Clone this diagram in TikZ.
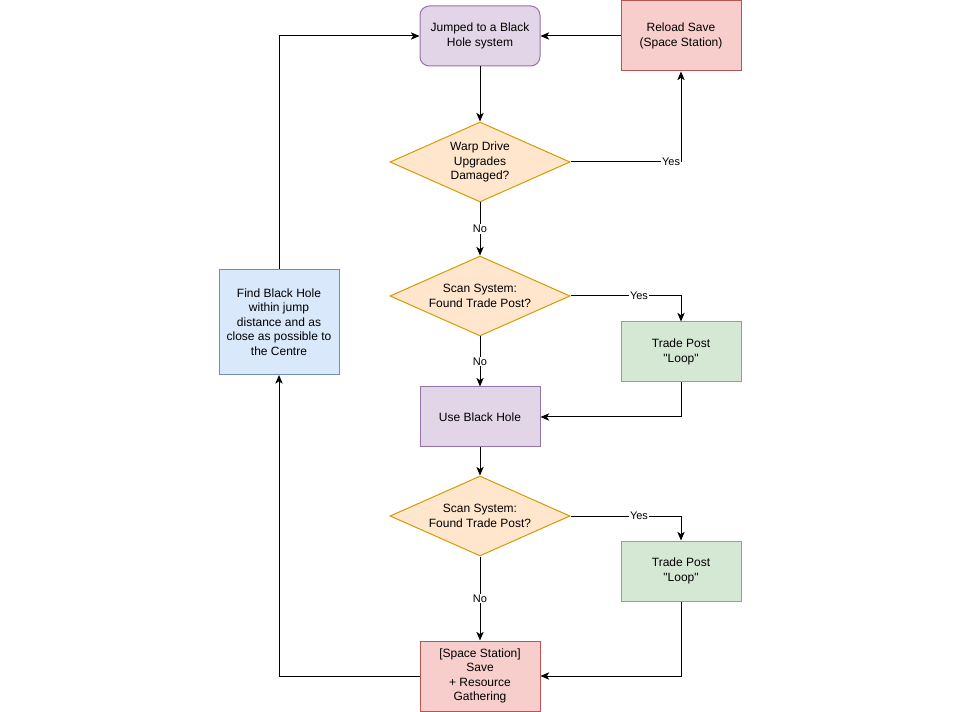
\documentclass[tikz,border=0pt]{standalone}
\usepackage{fontspec}
\setmainfont{Liberation Sans}
\usepackage{xcolor}
\usepackage{tikz}
\usetikzlibrary{positioning,arrows.meta,shapes.geometric}

\definecolor{violetfill}{HTML}{E1D5E7}
\definecolor{violetline}{HTML}{9673A6}
\definecolor{redfill}{HTML}{F8CECC}
\definecolor{redline}{HTML}{B85450}
\definecolor{orangefill}{HTML}{FFE6CC}
\definecolor{orangeline}{HTML}{D79B00}
\definecolor{greenfill}{HTML}{D5E8D4}
\definecolor{greenline}{HTML}{82B366}
\definecolor{bluefill}{HTML}{DAE8FC}
\definecolor{blueline}{HTML}{6C8EBF}

\begin{document}
\begin{tikzpicture}[
  x=0.75pt, y=-0.75pt,
  node distance=42pt,
  stepbox/.style={draw, align=center, line width=0.75pt, inner sep=2pt, minimum width=90pt, minimum height=45pt, font=\fontsize{9}{10.9}\selectfont},
  decision/.style={diamond, draw=orangeline, fill=orangefill, aspect=2.25, align=center, line width=0.75pt, inner sep=0pt, minimum width=135pt, minimum height=60pt, font=\fontsize{9}{10.9}\selectfont},
  lbl/.style={fill=white, inner sep=0.5pt, font=\fontsize{8.25}{9}\selectfont},
  flow/.style={->, line width=0.75pt, >={Stealth[length=6.5pt, width=5.5pt, inset=1.8pt]}}
]
  \fill[white] (0,0) rectangle (960,712);
  \useasboundingbox (0,0) rectangle (960,712);

  % main column
  \node[stepbox, rounded corners=7pt, fill=violetfill, draw=violetline] (jump) at (480,36) {Jumped to a Black\\Hole system};
  \node[decision, below=41.25pt of jump] (warp) {Warp Drive\\Upgrades\\Damaged?};
  \node[decision, below=39.75pt of warp] (scanA) {Scan System:\\Found Trade Post?};
  \node[stepbox, fill=violetfill, draw=violetline, below=37.5pt of scanA] (usebh) {Use Black Hole};
  \node[decision, below=21pt of usebh] (scanB) {Scan System:\\Found Trade Post?};
  \node[stepbox, fill=redfill, draw=redline, minimum height=52.5pt, below=63pt of scanB] (save) {[Space Station]\\Save\\+ Resource\\Gathering};

  % side boxes
  \node[stepbox, fill=redfill, draw=redline, minimum height=52.5pt, right=60pt of jump] (reload) {Reload Save\\(Space Station)};
  \node[stepbox, fill=greenfill, draw=greenline, right=60pt of usebh, yshift=48.75pt] (tradeA) {Trade Post\\\textquotedbl Loop\textquotedbl};
  \node[stepbox, fill=greenfill, draw=greenline, right=37.5pt of scanB, yshift=-41.25pt] (tradeB) {Trade Post\\\textquotedbl Loop\textquotedbl};
  \node[stepbox, fill=bluefill, draw=blueline, minimum height=78.75pt, left=37.5pt of scanA, yshift=-19.5pt] (findbh) {Find Black Hole\\within jump\\distance and as\\close as possible to\\the Centre};

  % connectors
  \draw[flow] (jump) -- (warp);
  \draw[flow] (warp.east) -| node[lbl, pos=0.455] {Yes} (reload.south);
  \draw[flow] (reload.west) -- (jump.east);
  \draw[flow] (warp) -- node[lbl] {No} (scanA);
  \draw[flow] (scanA.east) -| node[lbl, pos=0.31] {Yes} (tradeA.north);
  \draw[flow] (scanA) -- node[lbl] {No} (usebh);
  \draw[flow] (tradeA.south) |- (usebh.east);
  \draw[flow] (usebh) -- (scanB);
  \draw[flow] (scanB.east) -| node[lbl, pos=0.31] {Yes} (tradeB.north);
  \draw[flow] (scanB) -- node[lbl] {No} (save);
  \draw[flow] (tradeB.south) |- (save.east);
  \draw[flow] (save.west) -| (findbh.south);
  \draw[flow] (findbh.north) |- (jump.west);
\end{tikzpicture}
\end{document}
